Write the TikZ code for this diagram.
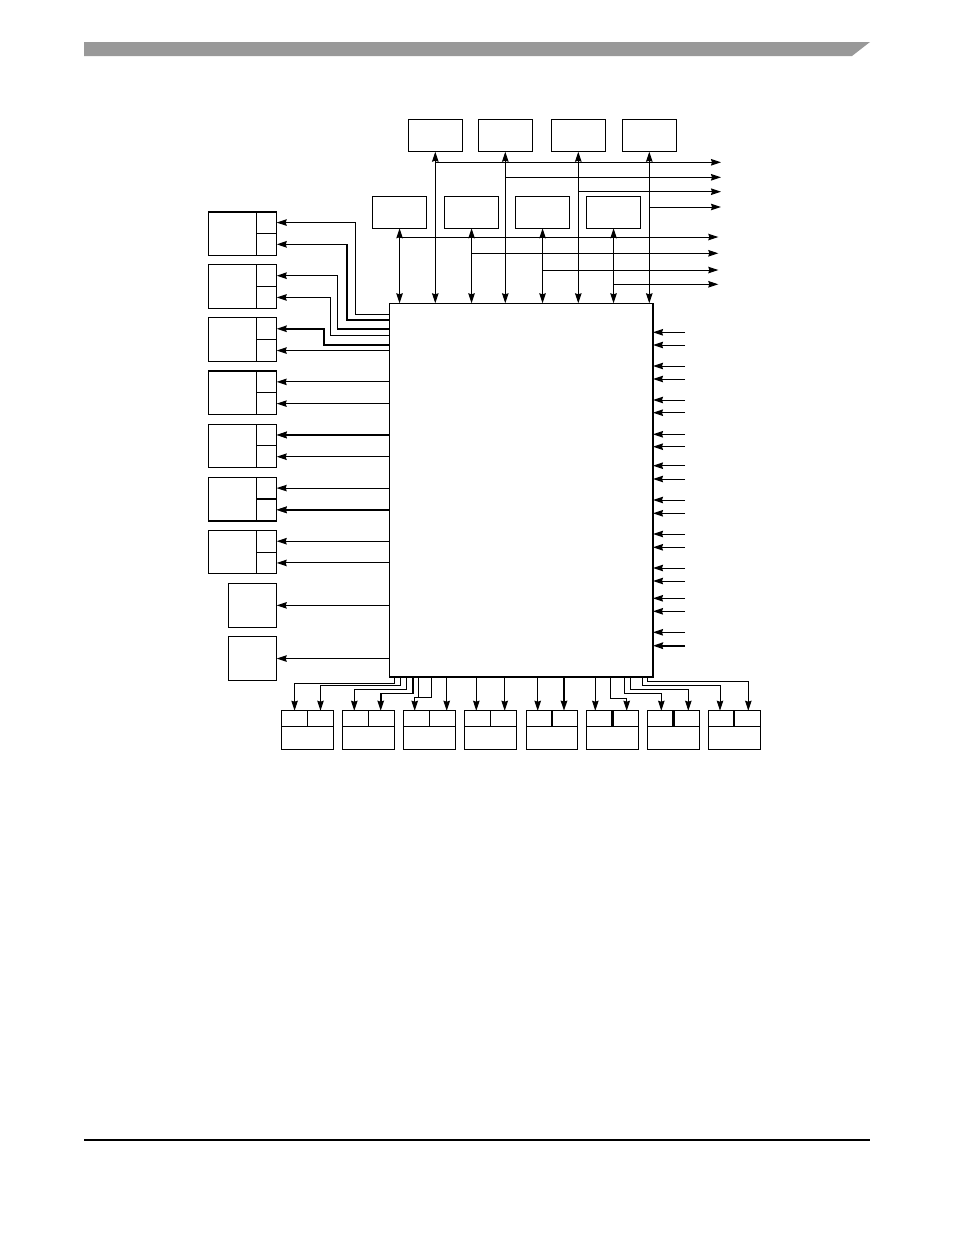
\documentclass[tikz,border=0pt]{standalone}
\usetikzlibrary{arrows.meta}
\definecolor{headgray}{RGB}{153,153,153}
\begin{document}
\begin{tikzpicture}[x=1pt,y=-1pt,
  ln/.style={line width=1pt},
  tk/.style={line width=1.8pt},
  arr/.style={line width=1pt,-{Stealth[length=10pt,width=6.5pt,inset=1pt]}},
  dbl/.style={line width=1pt,{Stealth[length=10pt,width=6.5pt,inset=1pt]}-{Stealth[length=10pt,width=6.5pt,inset=1pt]}},
  box/.style={draw,line width=1pt,inner sep=0pt,outer sep=0pt,anchor=north west}]
\useasboundingbox (0,0) rectangle (954,1235);
% header and footer
\fill[headgray] (84,42) -- (870,42) -- (852,56) -- (84,56) -- cycle;
\draw[line width=1.3pt] (84,1140) -- (870,1140);
% main block
\node[box,minimum width=263.7pt,minimum height=373.2pt] (main) at (389.3,303.3) {};
\draw[line width=2pt] (main.north east) -- (main.south east) -- (main.south west);
% top row
\foreach \i/\x in {1/408.3,2/478.3,3/551.3,4/622.3}{
  \node[box,minimum width=54pt,minimum height=32.4pt] (t\i) at (\x,119.3) {};
  \draw[line width=1.6pt] (t\i.north west) -- (t\i.north east);
}
\foreach \i/\x in {1/372.3,2/444.3,3/515.3,4/586.3}{
  \node[box,minimum width=54.5pt,minimum height=32pt] (s\i) at (\x,196.3) {};
}
\foreach \i/\y in {1/162.3,2/177.3,3/191.7,4/207}{
  \draw[dbl] (t\i.south) -- (t\i.south |- main.north);
  \coordinate (tr\i) at (721,\y);
  \draw[arr] (t\i.south |- tr\i) -- (tr\i);
}
\foreach \i/\y in {1/237,2/253.3,3/270,4/284.3}{
  \draw[dbl] (s\i.south) -- (s\i.south |- main.north);
  \coordinate (sr\i) at (718.3,\y);
  \draw[arr] (s\i.south |- sr\i) -- (sr\i);
}
% left boxes
\foreach \k in {1,...,7}{
  \pgfmathsetmacro{\ty}{211.7+(\k-1)*53.1}
  \node[box,minimum width=48.4pt,minimum height=43.5pt] (L\k) at (208.3,\ty) {};
  \node[box,minimum width=20pt,minimum height=21.75pt] (L\k-a) at (256.7,\ty) {};
  \node[box,minimum width=20pt,minimum height=21.75pt] (L\k-b) at (256.7,\ty+21.75) {};
}
\foreach \k in {8,9}{
  \pgfmathsetmacro{\ty}{211.7+(\k-1)*53.1}
  \node[box,minimum width=48.4pt,minimum height=44pt] (L\k) at (228.3,\ty) {};
}
\draw[line width=1.8pt] (L1.north west) -- (L1-a.north east);
\draw[line width=1.8pt] (L4.north west) -- (L4-a.north east);
\draw[line width=1.8pt] (L6.south west) -- (L6-b.south east);
\draw[line width=1.8pt] (L6-a.south west) -- (L6-a.south east);
% routed left connectors
\draw[arr] (main.west |- 0,314) -- (355.3,314) -- (355.3,0 |- L1-a.east) -- (L1-a.east);
\draw[arr,line width=1.6pt] (main.west |- 0,320) -- (347,320) -- (347,0 |- L1-b.east) -- (L1-b.east);
\draw[arr,line width=1.4pt] (main.west |- 0,329) -- (337.3,329) -- (337.3,0 |- L2-a.east) -- (L2-a.east);
\draw[arr] (main.west |- 0,335) -- (330,335) -- (330,0 |- L2-b.east) -- (L2-b.east);
\draw[arr,line width=1.6pt] (main.west |- 0,345) -- (323.7,345) -- (323.7,0 |- L3-a.east) -- (L3-a.east);
\draw[arr] (main.west |- L3-b.east) -- (L3-b.east);
% straight left connectors
\foreach \k in {4,5,6,7}{
  \draw[arr] (main.west |- L\k-a.east) -- (L\k-a.east);
  \draw[arr] (main.west |- L\k-b.east) -- (L\k-b.east);
}
\draw[arr,line width=2pt] (main.west |- L5-a.east) -- (L5-a.east);
\draw[arr,line width=2pt] (main.west |- L6-b.east) -- (L6-b.east);
\draw[arr] (main.west |- L8.east) -- (L8.east);
\draw[arr] (main.west |- L9.east) -- (L9.east);
% right inputs
\foreach \y in {332.3,345,366,379,400,412.7,434.3,446.7,465.7,479,500,513.3,534,547.3,568,581,598.3,611.3,632.3}{
  \coordinate (in) at (685,\y);
  \draw[arr] (in) -- (main.east |- in);
}
\coordinate (inlast) at (685,645.7);
\draw[arr,line width=2pt] (inlast) -- (main.east |- inlast);
% bottom boxes
\foreach \i/\x/\w in {1/281.7/1.6,2/342.7/1.6,3/403.7/1.6,4/464.7/1.6,5/526/1.6,6/586.7/2.6,7/647.7/2.6,8/708.3/2.6}{
  \node[box,minimum width=25.85pt,minimum height=15.3pt] (B\i-a) at (\x,710.7) {};
  \node[box,minimum width=25.85pt,minimum height=15.3pt] (B\i-b) at (\x+25.85,710.7) {};
  \node[box,minimum width=51.7pt,minimum height=23pt] (B\i-c) at (\x,726) {};
  \draw[line width=\w pt] (B\i-a.north east) -- (B\i-a.south east);
}
% routed bottom connectors
\draw[arr] (394.7,0 |- main.south) |- (294.6,683.3) -- (294.6,0 |- B1-a.north);
\draw[arr] (400,0 |- main.south) |- (320.5,685.7) -- (320.5,0 |- B1-b.north);
\draw[arr] (406.7,0 |- main.south) |- (354.3,689.3) -- (354.3,0 |- B2-a.north);
\draw[arr,line width=1.6pt] (412.7,0 |- main.south) |- (380.7,693.3) -- (380.7,0 |- B2-b.north);
\draw[ln] (418.3,0 |- main.south) -- (418.3,697.3);
\draw[arr] (431.7,0 |- main.south) |- (414.7,697.3) -- (414.7,0 |- B3-a.north);
\draw[arr] (446.7,0 |- main.south) -- (446.7,0 |- B3-b.north);
\draw[arr] (476.3,0 |- main.south) -- (476.3,0 |- B4-a.north);
\draw[arr] (504.7,0 |- main.south) -- (504.7,0 |- B4-b.north);
\draw[arr] (537.7,0 |- main.south) -- (537.7,0 |- B5-a.north);
\draw[arr,line width=1.8pt] (564,0 |- main.south) -- (564,0 |- B5-b.north);
\draw[arr] (595.3,0 |- main.south) -- (595.3,0 |- B6-a.north);
\draw[arr] (610.7,0 |- main.south) |- (626.7,698.3) -- (626.7,0 |- B6-b.north);
\draw[arr] (624.3,0 |- main.south) |- (661.3,693.3) -- (661.3,0 |- B7-a.north);
\draw[arr] (630.7,0 |- main.south) |- (688.3,689) -- (688.3,0 |- B7-b.north);
\draw[arr] (642.3,0 |- main.south) |- (720,685.7) -- (720,0 |- B8-a.north);
\draw[arr] (647,0 |- main.south) |- (748.3,681.7) -- (748.3,0 |- B8-b.north);
\end{tikzpicture}
\end{document}
